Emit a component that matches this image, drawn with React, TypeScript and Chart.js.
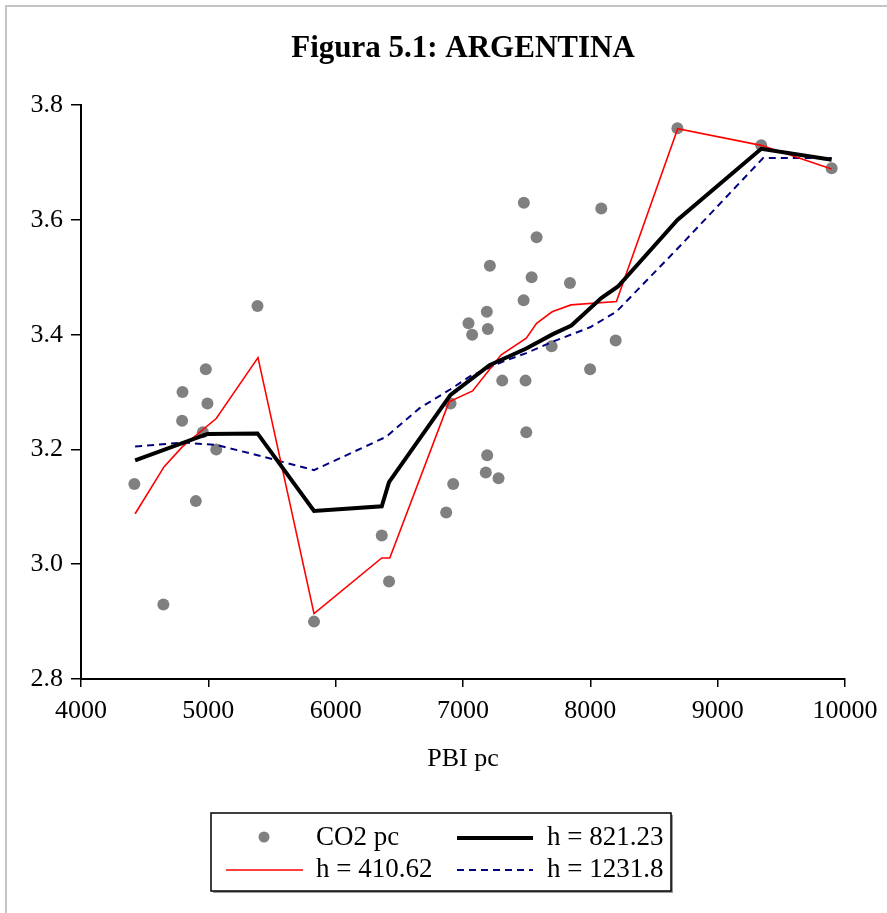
import React, { useEffect, useRef } from 'react';
import { Chart, registerables } from 'chart.js';

Chart.register(...registerables);

const TITLE = 'Figura 5.1: ARGENTINA';
const X_LABEL = 'PBI pc';
const NAMES = ['CO2 pc', 'h = 821.23', 'h = 410.62', 'h = 1231.8'];

// scatter observations
const pbi = [4419, 4647, 4794, 4797, 4902, 4957, 4980, 4993, 5062, 5386, 5830, 6362, 6419, 6868, 6902, 6923, 7043, 7072, 7179, 7187, 7190, 7195, 7211, 7279, 7308, 7476, 7478, 7491, 7497, 7539, 7578, 7696, 7840, 7998, 8086, 8199, 8684, 9342, 9895];
const co2 = [3.14, 2.93, 3.25, 3.30, 3.11, 3.23, 3.34, 3.28, 3.20, 3.45, 2.90, 3.05, 2.97, 3.09, 3.28, 3.14, 3.42, 3.40, 3.16, 3.44, 3.19, 3.41, 3.52, 3.15, 3.32, 3.46, 3.63, 3.32, 3.23, 3.50, 3.57, 3.38, 3.49, 3.34, 3.62, 3.39, 3.76, 3.73, 3.69];

// h = 821.23
const blackX = [4425, 4993, 5386, 5830, 6362, 6419, 6902, 7208, 7497, 7706, 7851, 8086, 8217, 8684, 9342, 9895];
const blackY = [3.181, 3.227, 3.228, 3.093, 3.101, 3.143, 3.295, 3.347, 3.376, 3.401, 3.416, 3.464, 3.484, 3.600, 3.724, 3.705];

// h = 410.62
const redX = [4425, 4653, 4797, 5062, 5390, 5830, 6362, 6425, 6890, 7075, 7300, 7497, 7578, 7700, 7848, 8205, 8686, 9342, 9895];
const redY = [3.088, 3.170, 3.205, 3.254, 3.360, 2.914, 3.011, 3.011, 3.283, 3.302, 3.365, 3.394, 3.420, 3.440, 3.452, 3.458, 3.759, 3.730, 3.689];

// h = 1231.8
const blueX = [4425, 4797, 5062, 5386, 5830, 6396, 6659, 6902, 7051, 7300, 7497, 7706, 7998, 8204, 8676, 9357, 9895];
const blueY = [3.205, 3.212, 3.208, 3.190, 3.164, 3.222, 3.272, 3.305, 3.327, 3.352, 3.368, 3.388, 3.413, 3.440, 3.548, 3.708, 3.708];

const X_TICK_MIN = 4000;
const X_TICK_MAX = 10000;
const Y_TICK_MIN = 2.8;
const Y_TICK_MAX = 3.8;

const FONT = "'Liberation Serif', 'Times New Roman', serif";

const pairs = (xs: number[], ys: number[]) => xs.map((x, i) => ({ x, y: ys[i] }));

const frameAndLegend = {
  id: 'frameAndLegend',
  beforeDraw(chart: any) {
    const ctx = chart.ctx;
    ctx.save();
    ctx.fillStyle = '#ffffff';
    ctx.fillRect(0, 0, chart.width, chart.height);
    ctx.strokeStyle = '#c4c4c4';
    ctx.lineWidth = 2;
    ctx.beginPath();
    ctx.moveTo(6, chart.height);
    ctx.lineTo(6, 6);
    ctx.lineTo(chart.width, 6);
    ctx.stroke();
    ctx.restore();
  },
  afterDraw(chart: any) {
    const ctx = chart.ctx;
    const bx = 211, by = 813, bw = 460, bh = 78;
    ctx.save();
    ctx.fillStyle = '#9a9a9a';
    ctx.fillRect(bx + 2, by + 2, bw, bh);
    ctx.fillStyle = '#ffffff';
    ctx.fillRect(bx, by, bw, bh);
    ctx.strokeStyle = '#000';
    ctx.lineWidth = 1.5;
    ctx.strokeRect(bx, by, bw, bh);

    const cols = [{ l: 226, r: 303, t: 316 }, { l: 457, r: 533, t: 547 }];
    const rows = [838, 870];
    const slots = [[0, 0], [0, 1], [1, 0], [1, 1]];
    const ds = chart.data.datasets;
    ctx.font = `27px ${FONT}`;
    ctx.textBaseline = 'middle';
    ctx.textAlign = 'left';
    ds.forEach((d: any, i: number) => {
      const [ri, ci] = slots[i];
      const y = rows[ri];
      const c = cols[ci];
      if (!d.showLine) {
        ctx.fillStyle = d.backgroundColor;
        ctx.beginPath();
        ctx.arc((c.l + c.r) / 2 - 0.5, y - 1, 5.5, 0, Math.PI * 2);
        ctx.fill();
      } else {
        ctx.strokeStyle = d.borderColor;
        ctx.lineWidth = d.borderWidth;
        ctx.setLineDash(d.borderDash || []);
        ctx.beginPath();
        ctx.moveTo(c.l, y);
        ctx.lineTo(c.r, y);
        ctx.stroke();
        ctx.setLineDash([]);
      }
      ctx.fillStyle = '#000';
      ctx.fillText(d.label, c.t, y);
    });
    ctx.restore();
  },
};

export default function App() {
  const ref = useRef<HTMLCanvasElement | null>(null);

  useEffect(() => {
    if (!ref.current) return;
    const chart = new Chart(ref.current, {
      type: 'scatter',
      data: {
        datasets: [
          {
            label: NAMES[0],
            data: pairs(pbi, co2),
            backgroundColor: '#808080',
            borderColor: '#808080',
            borderWidth: 0,
            pointRadius: 6,
            showLine: false,
            order: 3,
          },
          {
            label: NAMES[1],
            data: pairs(blackX, blackY),
            borderColor: '#000000',
            backgroundColor: '#000000',
            borderWidth: 4,
            pointRadius: 0,
            showLine: true,
            tension: 0,
            order: 0,
          },
          {
            label: NAMES[2],
            data: pairs(redX, redY),
            borderColor: '#ff0000',
            backgroundColor: '#ff0000',
            borderWidth: 1.6,
            pointRadius: 0,
            showLine: true,
            tension: 0,
            order: 1,
          },
          {
            label: NAMES[3],
            data: pairs(blueX, blueY),
            borderColor: '#000080',
            backgroundColor: '#000080',
            borderWidth: 2,
            borderDash: [7, 5],
            pointRadius: 0,
            showLine: true,
            tension: 0,
            order: 2,
          },
        ],
      } as any,
      options: {
        responsive: false,
        animation: false,
        devicePixelRatio: 1,
        layout: { padding: { left: 0, right: 42, top: 0, bottom: 0 } },
        plugins: {
          legend: { display: false },
          tooltip: { enabled: false },
          title: {
            display: true,
            text: TITLE,
            fullSize: false,
            color: '#000',
            font: { family: FONT, size: 31, weight: 'bold' },
            padding: { top: 30, bottom: 38 },
          },
        },
        scales: {
          x: {
            type: 'linear',
            min: X_TICK_MIN,
            max: X_TICK_MAX,
            afterFit: (s: any) => { s.height = 234; },
            ticks: {
              stepSize: 1000,
              color: '#000',
              padding: 9,
              maxRotation: 0,
              font: { family: FONT, size: 26 },
              callback: (v: any) => String(v),
            },
            grid: { display: true, drawOnChartArea: false, drawTicks: true, tickLength: 8, color: '#000', lineWidth: 1.5 },
            border: { display: true, color: '#000', width: 2 },
            title: {
              display: true,
              text: X_LABEL,
              color: '#000',
              font: { family: FONT, size: 26 },
              padding: { top: 0, bottom: 138 },
            },
          },
          y: {
            type: 'linear',
            min: Y_TICK_MIN,
            max: Y_TICK_MAX,
            afterFit: (s: any) => { s.width = 81; },
            ticks: {
              stepSize: 0.2,
              color: '#000',
              padding: 8,
              font: { family: FONT, size: 26 },
              callback: (v: any) => Number(v).toFixed(1),
            },
            grid: { display: true, drawOnChartArea: false, drawTicks: true, tickLength: 10, color: '#000', lineWidth: 1.5 },
            border: { display: true, color: '#000', width: 2 },
          },
        },
      } as any,
      plugins: [frameAndLegend],
    });
    return () => chart.destroy();
  }, []);

  return (
    <div style={{ position: 'absolute', left: 0, top: 0, width: 887, height: 913, background: '#fff' }}>
      <canvas ref={ref} width={887} height={913} style={{ width: 887, height: 913, display: 'block' }} />
    </div>
  );
}
